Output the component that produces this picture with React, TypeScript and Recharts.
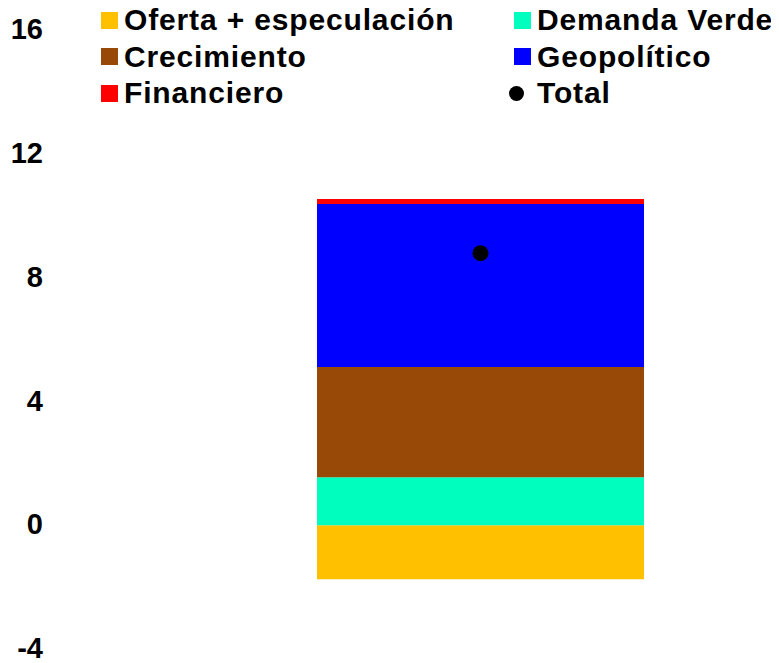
import React from 'react';
import { ComposedChart, Bar, Scatter, XAxis, YAxis } from 'recharts';

const categories = ['2022'];
const ofertaEspeculacion = [-1.75];
const demandaVerde = [1.55];
const crecimiento = [3.56];
const geopolitico = [5.27];
const financiero = [0.16];
const total = [8.79];
const yTicks = [-4, 0, 4, 8, 12, 16];

const chartData = categories.map((c, i) => ({
  name: c,
  oferta: ofertaEspeculacion[i],
  verde: demandaVerde[i],
  crecimiento: crecimiento[i],
  geopolitico: geopolitico[i],
  financiero: financiero[i],
  total: total[i],
}));

const legendItems = [
  { label: 'Oferta + especulación', color: '#FFC000', kind: 'square' },
  { label: 'Demanda Verde', color: '#00FFBF', kind: 'square' },
  { label: 'Crecimiento', color: '#984807', kind: 'square' },
  { label: 'Geopolítico', color: '#0000FF', kind: 'square' },
  { label: 'Financiero', color: '#FF0000', kind: 'square' },
  { label: 'Total', color: '#000000', kind: 'dot' },
];

const font = '"Liberation Sans", Arial, sans-serif';

const TotalDot = (props: any) => (
  <circle cx={props.cx} cy={props.cy} r={8} fill="#000" />
);

const App: React.FC = () => {
  return (
    <div style={{ position: 'relative', width: 771, height: 655, fontFamily: font }}>
      <ComposedChart
        width={771}
        height={655}
        data={chartData}
        stackOffset="sign"
        margin={{ top: 22, right: 8, bottom: 14, left: 0 }}
      >
        <XAxis dataKey="name" hide />
        <YAxis
          domain={[-4, 16]}
          ticks={yTicks}
          interval={0}
          width={182}
          axisLine={false}
          tickLine={false}
          tick={{ fontSize: 29, fontWeight: 'bold', fill: '#000', fontFamily: font, dx: -139, dy: -1 }}
        />
        <Bar dataKey="oferta" stackId="a" fill="#FFC000" barSize={327} isAnimationActive={false} />
        <Bar dataKey="verde" stackId="a" fill="#00FFBF" barSize={327} isAnimationActive={false} />
        <Bar dataKey="crecimiento" stackId="a" fill="#984807" barSize={327} isAnimationActive={false} />
        <Bar dataKey="geopolitico" stackId="a" fill="#0000FF" barSize={327} isAnimationActive={false} />
        <Bar dataKey="financiero" stackId="a" fill="#FF0000" barSize={327} isAnimationActive={false} />
        <Scatter dataKey="total" fill="#000" shape={TotalDot} isAnimationActive={false} />
      </ComposedChart>
      <div style={{ position: 'absolute', left: 93, top: 0, width: 676 }}>
        {legendItems.map((it, i) => (
          <div
            key={it.label}
            style={{
              position: 'absolute',
              left: i % 2 === 0 ? 0 : 413,
              top: Math.floor(i / 2) * 36.5,
              display: 'flex',
              alignItems: 'center',
              fontSize: 30,
              fontWeight: 'bold',
              letterSpacing: 0.85,
              whiteSpace: 'nowrap',
              lineHeight: '24px',
            }}
          >
            {it.kind === 'square' ? (
              <span style={{ width: 17, height: 17, background: it.color, display: 'inline-block', marginRight: 6 }} />
            ) : (
              <span style={{ width: 15, height: 15, borderRadius: 8, background: it.color, display: 'inline-block', marginLeft: -5, marginRight: 13 }} />
            )}
            {it.label}
          </div>
        ))}
      </div>
    </div>
  );
};

export default App;
